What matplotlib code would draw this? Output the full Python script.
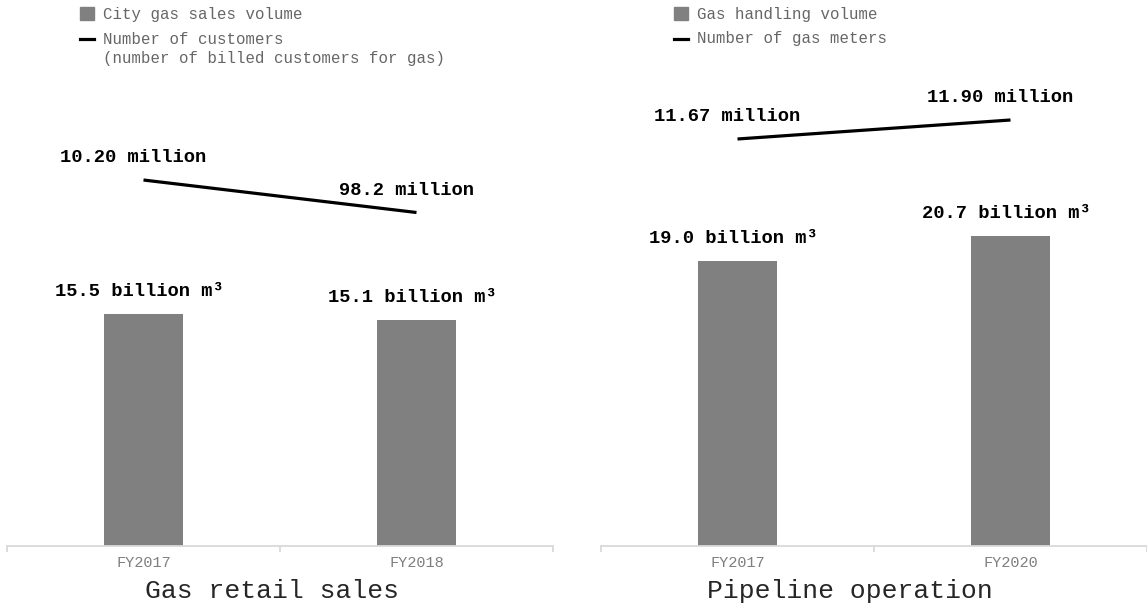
import matplotlib.pyplot as plt
from matplotlib.patches import Rectangle
from matplotlib.lines import Line2D

plt.rcParams['font.family'] = ['Liberation Mono', 'DejaVu Sans Mono']

# Gas retail sales
retail_years = ["FY2017", "FY2018"]
retail_volume = [15.5, 15.1]          # billion m3
retail_customers = [10.20, 9.82]      # million
retail_volume_labels = ["15.5 billion m³", "15.1 billion m³"]
retail_customer_labels = ["10.20 million", "98.2 million"]

# Pipeline operation
pipe_years = ["FY2017", "FY2020"]
pipe_volume = [19.0, 20.7]            # billion m3
pipe_meters = [11.67, 11.90]          # million
pipe_volume_labels = ["19.0 billion m³", "20.7 billion m³"]
pipe_meter_labels = ["11.67 million", "11.90 million"]

BAR = "#808080"
AXIS = "#d9d9d9"

W, H = 1147, 608
fig = plt.figure(figsize=(W / 100, H / 100), dpi=100)


def px(x, y):
    # pixel position (from top-left) to figure fraction
    return x / W, 1 - y / H


def panel(left, years, vols, vol_labels, counts, count_labels, ylim2, title, title_x):
    ax = fig.add_axes([left, 62 / H, 546 / W, 446 / H])
    xs = range(len(years))
    ax.bar(xs, vols, width=0.286, color=BAR, zorder=2)
    ax.set_xlim(-0.5, 1.5)
    ax.set_ylim(0, 446 / 15)
    for x, v, lab in zip(xs, vols, vol_labels):
        ax.annotate(lab, (x, v), xytext=(-4, 14), textcoords="offset pixels",
                    ha="center", va="bottom", fontsize=13.5, fontweight="bold",
                    color="black")

    ax2 = ax.twinx()
    ax2.plot(list(xs), counts, color="black", lw=2.3, solid_capstyle="butt")
    ax2.set_ylim(*ylim2)
    for x, c, lab in zip(xs, counts, count_labels):
        ax2.annotate(lab, (x, c), xytext=(-10, 14), textcoords="offset pixels",
                     ha="center", va="bottom", fontsize=13.5, fontweight="bold",
                     color="black")

    for a in (ax, ax2):
        for s in ("top", "right", "left"):
            a.spines[s].set_visible(False)
        a.set_yticks([])
    ax2.spines["bottom"].set_visible(False)
    ax.spines["bottom"].set_color(AXIS)
    ax.spines["bottom"].set_linewidth(1.3)

    ax.set_xticks(list(xs))
    ax.set_xticklabels(years, fontsize=11, color="#7f7f7f")
    ax.tick_params(axis="x", length=0, pad=7)
    ax.set_xticks([-0.5, 0.5, 1.5], minor=True)
    ax.tick_params(axis="x", which="minor", length=4, color=AXIS, width=1.3)

    ax.set_xlabel(title, fontsize=19, color="#262626", labelpad=4)
    ax.xaxis.set_label_coords(title_x, -0.075)
    return ax


def legend(x0, entries):
    # entries: (kind, text, y) with kind "bar", "line" or "" for continuation rows
    for kind, text, y in entries:
        if kind == "bar":
            fx, fy = px(x0, y + 6)
            fig.patches.append(Rectangle((fx, fy), 14 / W, 13 / H, color=BAR,
                                         transform=fig.transFigure, figure=fig))
        elif kind == "line":
            (ax0, ay), (ax1, _) = px(x0, y), px(x0 + 14, y)
            fig.lines.append(Line2D([ax0, ax1], [ay, ay], color="black", lw=2.3,
                                    transform=fig.transFigure, figure=fig))
        tx, ty = px(x0 + 23, y)
        fig.text(tx, ty, text, fontsize=11.3, color="#666666", va="center", ha="left")


panel(7 / W, retail_years, retail_volume, retail_volume_labels,
      retail_customers, retail_customer_labels, (5.919, 11.136),
      "Gas retail sales", 0.485)
panel(601 / W, pipe_years, pipe_volume, pipe_volume_labels,
      pipe_meters, pipe_meter_labels, (6.743, 12.142),
      "Pipeline operation", 0.455)

legend(80, [("bar", "City gas sales volume", 14),
            ("line", "Number of customers", 39),
            ("", "(number of billed customers for gas)", 58)])
legend(674, [("bar", "Gas handling volume", 14),
             ("line", "Number of gas meters", 39)])

fig.savefig("out.png", dpi=100)
